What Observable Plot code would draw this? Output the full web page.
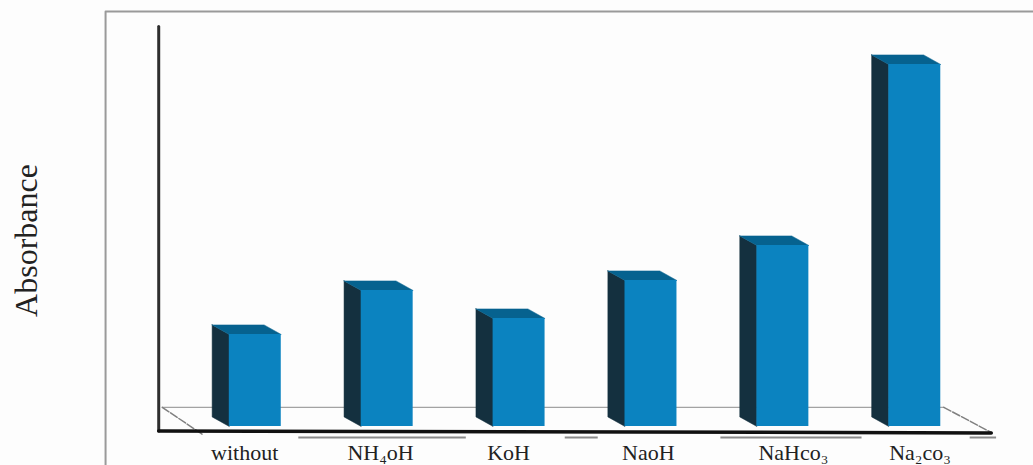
<!DOCTYPE html>
<html>
<head>
<meta charset="utf-8">
<script src="https://cdn.jsdelivr.net/npm/d3@7"></script>
<script src="https://cdn.jsdelivr.net/npm/@observablehq/plot@0.6"></script>
<style>
  html, body { margin: 0; padding: 0; background: #fdfdfd; overflow: hidden; }
  svg { display: block; }
</style>
</head>
<body>
<script>
// Absorbance by added base
const bases = ["without", "NH₄oH", "KoH", "NaoH", "NaHco₃", "Na₂co₃"];
const absorbance = [0.23, 0.34, 0.27, 0.365, 0.4525, 0.905];

// Box geometry in data units: half width, oblique depth across and up
const halfWidth = 0.197;
const depthX = 0.13;
const depthY = 0.024;

// Category labels sit slightly off their box centres
const labelShift = [-0.08, -0.05, -0.08, -0.02, 0.08, 0.04];

const boxes = bases.map((name, i) => ({name, i, v: absorbance[i], labelX: i + labelShift[i]}));

// Closed faces of each box, listed as polygon vertices
const face = (corners) => boxes.flatMap((b) => [...corners(b), corners(b)[0]].map(([x, y]) => ({x, y, id: b.name})));
const sideFace = face((b) => [
  [b.i - halfWidth - depthX, b.v + depthY],
  [b.i - halfWidth, b.v],
  [b.i - halfWidth, 0],
  [b.i - halfWidth - depthX, depthY]
]);
const topFace = face((b) => [
  [b.i - halfWidth - depthX, b.v + depthY],
  [b.i + halfWidth - depthX, b.v + depthY],
  [b.i + halfWidth, b.v],
  [b.i - halfWidth, b.v]
]);

// Floor plane behind the boxes, extent in the same data units
const floorBack = [[-0.705, 0.048], [5.22, 0.048]];
const floorLeft = [[-0.705, 0.048], [-0.40, -0.02]];
const floorRight = [[5.22, 0.048], [5.58, -0.015]];
const axisY = [[-0.732, 1], [-0.732, -0.011]];
const axisX = [[-0.732, -0.011], [5.58, -0.016]];

// Grey page frame and the broken rule under the axis
const frame = [[-1.135, -0.0975], [-1.135, 1.0375], [5.92, 1.0375]];
const rules = [[0.33, 1.6], [2.35, 2.6], [3.53, 4.6], [5.42, 5.62]];

const chart = Plot.plot({
  width: 1033,
  height: 465,
  marginTop: 0,
  marginRight: 0,
  marginBottom: 0,
  marginLeft: 0,
  style: {background: "#fdfdfd", fontFamily: "Liberation Serif"},
  x: {domain: [-1.9315, 5.9], range: [0, 1033], axis: null},
  y: {domain: [-0.0975, 1.065], range: [465, 0], axis: null},
  marks: [
    Plot.line(frame, {x: "0", y: "1", stroke: "#9a9a9a", strokeWidth: 2}),
    Plot.line(floorBack, {x: "0", y: "1", stroke: "#8d8d8d", strokeWidth: 1}),
    Plot.line(floorLeft, {x: "0", y: "1", stroke: "#808080", strokeWidth: 1.5, strokeDasharray: "8 2"}),
    Plot.line(floorRight, {x: "0", y: "1", stroke: "#808080", strokeWidth: 1.5, strokeDasharray: "8 2"}),
    Plot.line(sideFace, {x: "x", y: "y", z: "id", fill: "#14303f", stroke: "#14303f", strokeWidth: 0.5}),
    Plot.line(topFace, {x: "x", y: "y", z: "id", fill: "#06628f", stroke: "#06628f", strokeWidth: 0.5}),
    Plot.rect(boxes, {
      x1: (d) => d.i - halfWidth,
      x2: (d) => d.i + halfWidth,
      y1: 0,
      y2: "v",
      fill: "#0b83c0"
    }),
    Plot.line(axisY, {x: "0", y: "1", stroke: "#2e2e2e", strokeWidth: 3}),
    Plot.line(axisX, {x: "0", y: "1", stroke: "#111", strokeWidth: 3.5}),
    Plot.ruleY(rules, {x1: "0", x2: "1", y: () => -0.0275, stroke: "#8a8a8a", strokeWidth: 2}),
    Plot.text(boxes, {
      x: "labelX",
      y: () => -0.0665,
      text: "name",
      fontSize: 22,
      fill: "#222",
      fontFamily: "Liberation Serif"
    }),
    Plot.text(["Absorbance"], {
      x: () => -1.733,
      y: () => 0.465,
      text: (d) => d,
      rotate: -90,
      fontSize: 32,
      fill: "#222",
      fontFamily: "Liberation Serif"
    })
  ]
});
document.body.append(chart);
</script>
</body>
</html>
